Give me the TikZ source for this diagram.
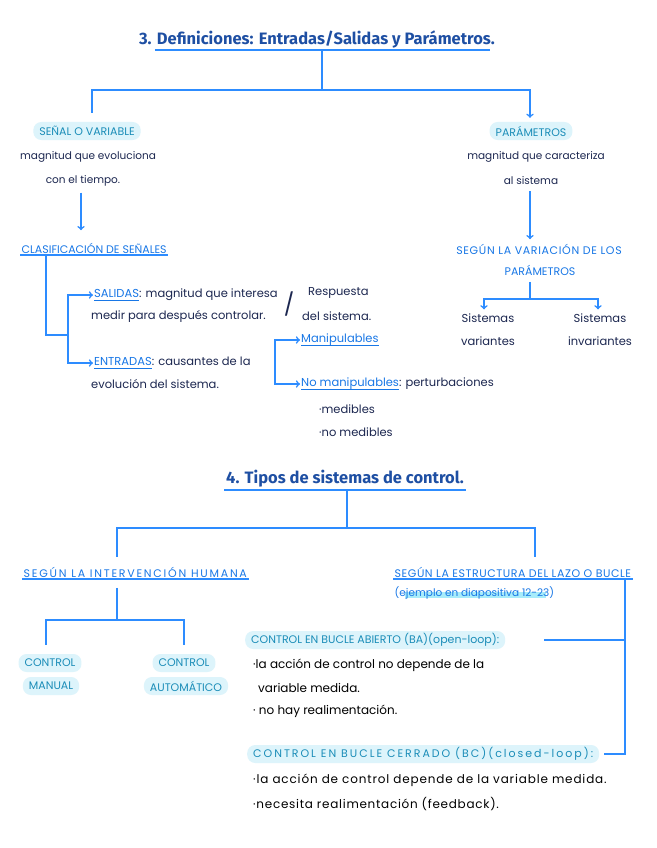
\documentclass[tikz,border=0pt]{standalone}
\usepackage{fontspec}
\setmainfont{Poppins}
\newfontfamily\titlefont{Fira Sans}
\usetikzlibrary{positioning,backgrounds}

\definecolor{titleblue}{HTML}{1E4FA3}
\definecolor{lineblue}{HTML}{2D8CFF}
\definecolor{labblue}{HTML}{1877E6}
\definecolor{pilltext}{HTML}{1B8DB8}
\definecolor{pillfill}{HTML}{DDF4FB}
\definecolor{hlcyan}{HTML}{A8ECFA}
\definecolor{navy}{HTML}{1C2750}

% underlined blue word inside a line
\newcommand{\lab}[1]{\textcolor{labblue}{\setbox0\hbox{#1}\rlap{\raisebox{-4pt}{\rule{\wd0}{1.2pt}}}\box0}}
\newcommand{\spaced}[1]{\addfontfeature{LetterSpace=#1}}

\begin{document}
\begin{tikzpicture}[x=1pt, y=-1pt,
    conn/.style={line width=1.6pt, color=lineblue},
    def/.style={font=\fontsize{10.5}{12}\selectfont, text=navy, inner sep=1pt},
    ink/.style={font=\fontsize{11.5}{13}\selectfont, text=navy, inner sep=1pt},
    blk/.style={font=\fontsize{12}{14}\selectfont, text=black, inner sep=1pt},
    caps/.style={font=\fontsize{11}{13}\selectfont, text=labblue, inner sep=1.5pt},
    pill/.style={fill=pillfill, rounded corners=8pt, text=pilltext, font=\fontsize{11}{13}\selectfont, inner xsep=6pt, inner ysep=2pt, minimum height=18pt},
    heading/.style={font=\titlefont\bfseries\fontsize{16.5}{19}\selectfont, text=titleblue, inner sep=2pt},
    hlbar/.style={line width=6pt, color=hlcyan}]

\begin{scope}[on background layer]
    \fill[white] (0,0) rectangle (656,848);
\end{scope}
\useasboundingbox (0,0) rectangle (656,848);

% 3. Definiciones
\node[heading] (t3) at (317,39) {3. Definiciones: Entradas/Salidas y Parámetros.};
\draw[conn] ([xshift=18pt]t3.south west) -- ([xshift=-7pt]t3.south east);

\node[pill] (senal) at (87,131) {SEÑAL O VARIABLE};
\node[pill] (param) at (531,131) {PARÁMETROS};

\draw[conn] ([xshift=5pt]t3.south) -- ++(0,40) coordinate (j1);
\draw[conn, shorten >=9pt] (j1) -| ([xshift=5pt]senal.north);
\draw[conn, ->, shorten >=4pt] (j1) -| ([xshift=-1pt]param.north);

\node[def] (sdef1) at (88,157) {magnitud que evoluciona};
\node[def] (sdef2) at (83,181) {con el tiempo.};
\node[def] (pdef1) at (536,157) {magnitud que caracteriza};
\node[def] (pdef2) at (531,181) {al sistema};

\node[caps, anchor=west] (clasif) at (20,248) {CLASIFICACIÓN DE SEÑALES};
\draw[conn] (clasif.south west) -- (clasif.south east);
\draw[conn, ->, shorten <=5pt, shorten >=11pt] ([xshift=-2pt]sdef2.south) -- ([xshift=-2pt]sdef2.south |- clasif.north);

\node[caps] (segvar1) at (539,249) {\spaced{6}SEGÚN LA VARIACIÓN DE LOS};
\node[caps] (segvar2) at (540,270) {PARÁMETROS};
\draw[conn, ->, shorten <=5pt, shorten >=3pt] ([xshift=-1pt]pdef2.south) -- ([xshift=-1pt]pdef2.south |- segvar1.north);

\node[ink] (sisvar1) at (488,318) {Sistemas};
\node[ink] (sisvar2) at (488,341) {variantes};
\node[ink] (sisinv1) at (600,318) {Sistemas};
\node[ink] (sisinv2) at (600,341) {invariantes};
\draw[conn, shorten <=5pt] ([xshift=-10pt]segvar2.south) -- ++(0,22) coordinate (j2);
\draw[conn, ->, shorten >=3pt] (j2) -| ([xshift=-4pt]sisvar1.north);
\draw[conn, ->, shorten >=3pt] (j2) -| ([xshift=-2pt]sisinv1.north);

% salidas / entradas
\node[ink, anchor=west] (salA) at (93,295) {\lab{SALIDAS}: magnitud que interesa};
\node[ink, anchor=west] (salB) at (90,316) {medir para después controlar.};
\node[ink, font=\fontsize{22}{24}\selectfont] (slash) at (289,304) {/};
\node[ink, anchor=west] (respA) at (307,293) {Respuesta};
\node[ink, anchor=west] (respB) at (301,316) {del sistema.};
\node[ink, anchor=west] (entA) at (93,363) {\lab{ENTRADAS}: causantes de la};
\node[ink, anchor=west] (entB) at (90,384) {evolución del sistema.};

\coordinate (b1) at (68,335);
\draw[conn] ([xshift=26pt]clasif.south west) |- (b1);
\draw[conn, ->] (b1) |- (salA.west);
\draw[conn, ->] (b1) |- (entA.west);

\node[ink, anchor=west] (manip) at (300,340) {\lab{Manipulables}};
\node[ink, anchor=west] (nomA) at (300,384) {\lab{No manipulables}: perturbaciones};
\node[ink, anchor=west] (med1) at (318,409) {·medibles};
\node[ink, anchor=west] (med2) at (318,432) {·no medibles};
\draw[conn, <->] (manip.west) -- ++(-25,0) |- (nomA.west);

% 4. Tipos de sistemas de control
\node[heading] (t4) at (345,479) {4. Tipos de sistemas de control.};
\draw[conn] (t4.south west) -- (t4.south east);

\node[caps, anchor=west] (segh) at (22,572) {\spaced{16}SEGÚN LA INTERVENCIÓN HUMANA};
\node[caps, anchor=west] (sege) at (393,572) {\spaced{5}SEGÚN LA ESTRUCTURA DEL LAZO O BUCLE};
\draw[conn] (segh.south west) -- (segh.south east);
\draw[conn] (sege.south west) -- (sege.south east);
\node[caps, anchor=west, font=\fontsize{10.5}{12}\selectfont] (ej) at (393,593) {(ejemplo en diapositiva 12-23)};
\begin{scope}[on background layer]
    \draw[hlbar] ([xshift=12pt, yshift=-2pt]ej.west) -- ([xshift=-10pt, yshift=-2pt]ej.east);
\end{scope}

\draw[conn] ([xshift=2pt]t4.south) -- ++(0,38) coordinate (j3);
\draw[conn, shorten >=8pt] (j3) -| ([xshift=95pt]segh.north west);
\draw[conn, shorten >=8pt] (j3) -| ([xshift=142pt]sege.north west);

\node[pill] (cman1) at (50,663) {CONTROL};
\node[pill] (cman2) at (51,686) {MANUAL};
\node[pill] (caut1) at (184,663) {CONTROL};
\node[pill] (caut2) at (186,686) {AUTOMÁTICO};
\draw[conn, shorten <=9pt] ([xshift=95pt]segh.south west) -- ++(0,41) coordinate (j4);
\draw[conn, shorten >=9pt] (j4) -| ([xshift=-4pt]cman1.north);
\draw[conn, shorten >=9pt] (j4) -| (caut1.north);

\node[pill, anchor=west] (ba) at (245,640) {CONTROL EN BUCLE ABIERTO (BA)(open-loop):};
\node[blk, anchor=west] (ba1) at (252,665) {·la acción de control no depende de la};
\node[blk, anchor=west] (ba2) at (257,688) {variable medida.};
\node[blk, anchor=west] (ba3) at (252,711) {· no hay realimentación.};

\node[pill, anchor=west] (bc) at (247,754) {\spaced{18}CONTROL EN BUCLE CERRADO (BC)(closed-loop):};
\node[blk, anchor=west] (bc1) at (252,780) {\spaced{7}·la acción de control depende de la variable medida.};
\node[blk, anchor=west] (bc2) at (252,804) {\spaced{6}·necesita realimentación (feedback).};

\coordinate (rb) at ([xshift=-8pt]sege.south east);
\draw[conn, shorten >=5pt] (rb) |- (bc.east);
\draw[conn, shorten >=39pt] (rb |- ba.east) -- (ba.east);
\end{tikzpicture}
\end{document}
